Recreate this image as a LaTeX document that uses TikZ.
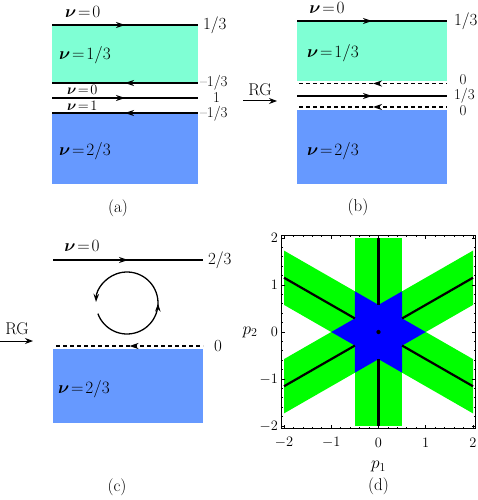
\documentclass[tikz,border=0pt]{standalone}
\usepackage{bm}
\usetikzlibrary{decorations.markings,arrows.meta}

\definecolor{aqua}{RGB}{127,255,212}
\definecolor{sky}{RGB}{102,153,255}
\definecolor{bandgreen}{RGB}{0,255,0}
\definecolor{coreblue}{RGB}{0,0,255}

\newcommand{\nuis}[1]{${\bm{\nu}}\mkern2mu{=}\mkern2mu#1$}

\begin{document}
\begin{tikzpicture}[x=1pt,y=-1pt,
  every node/.style={font=\fontsize{17}{19}\selectfont,inner sep=0pt,outer sep=0pt},
  region/.style={anchor=north west,inner sep=0pt,outer sep=0pt},
  edge/.style={line width=1.2pt},
  fwd/.style={edge,postaction={decorate},
    decoration={markings,mark=at position .5 with {\arrow{Stealth[length=9pt,width=6pt]}}}},
  bwd/.style={edge,postaction={decorate},
    decoration={markings,mark=at position .5 with {\arrowreversed{Stealth[length=9pt,width=6pt]}}}},
  ghost/.style={dash pattern=on 4pt off 3pt},
  nu/.style={anchor=west},
  lbl/.style={anchor=west},
  tight/.style={font=\fontsize{15}{16}\selectfont},
  panel/.style={font=\fontsize{17}{19}\selectfont},
  rg/.style={line width=1pt,-{Stealth[length=8pt,width=6pt]}},
  ticklbl/.style={font=\fontsize{15}{17}\selectfont}
]
  \useasboundingbox (0,0) rectangle (477,500);

  % (a)
  \node[region,fill=aqua,minimum width=146pt,minimum height=58pt] (acyan) at (52,25) {};
  \node[region,fill=sky,minimum width=146pt,minimum height=71pt] (ablue) at (52,113) {};
  \coordinate (amid) at (52,98);
  \draw[fwd] (acyan.north west) -- (acyan.north east);
  \draw[bwd] (acyan.south west) -- (acyan.south east);
  \draw[fwd] (amid) -- (amid -| acyan.east);
  \draw[bwd] (ablue.north west) -- (ablue.north east);
  \node[nu] (anutop) at (65,12) {\nuis{0}};
  \node[nu] (anuone3) at (59,55) {\nuis{1/3}};
  \node[nu,tight] (anugap0) at (67,90) {\nuis{0}};
  \node[nu,tight] (anugap1) at (67,106) {\nuis{1}};
  \node[nu] (anutwo3) at (59,151) {\nuis{2/3}};
  \node[lbl] (ar1) at (203,25) {1/3};
  \node[lbl,tight] (ar2) at (200,83) {--1/3};
  \node[lbl,tight] (ar3) at (213,98) {1};
  \node[lbl,tight] (ar4) at (200,114) {--1/3};
  \node[panel] (acap) at (118,208) {(a)};

  % (b)
  \node[region,fill=aqua,minimum width=150pt,minimum height=60pt] (bcyan) at (297,21) {};
  \node[region,fill=sky,minimum width=150pt,minimum height=74pt] (bblue) at (297,110) {};
  \coordinate (bup) at (299,83.5);
  \coordinate (bmid) at (297,96);
  \coordinate (blow) at (299,107);
  \draw[fwd] (bcyan.north west) -- (bcyan.north east);
  \draw[bwd,ghost] (bup) -- (bup -| bcyan.east);
  \draw[fwd] (bmid) -- (bmid -| bcyan.east);
  \draw[bwd,ghost] (blow) -- (blow -| bcyan.east);
  \node (bnutop) at (327,8) {\nuis{0}};
  \node[nu] (bnuone3) at (307,53) {\nuis{1/3}};
  \node[nu] (bnutwo3) at (307,151) {\nuis{2/3}};
  \node[lbl] (br1) at (454,21) {1/3};
  \node[tight] (br2) at (463,80) {0};
  \node[lbl,tight] (br3) at (454,96) {1/3};
  \node[tight] (br4) at (463,111) {0};
  \node (brg) at (260,90) {RG};
  \coordinate (brgs) at (243,101);
  \coordinate (brge) at (277,101);
  \draw[rg] (brgs) -- (brge);
  \node[panel] (bcap) at (358,207) {(b)};

  % (c)
  \coordinate (ctopw) at (53,260);
  \coordinate (ctope) at (203,260);
  \draw[fwd] (ctopw) -- (ctope);
  \node[region,fill=sky,minimum width=150pt,minimum height=74pt] (cblue) at (53,349) {};
  \coordinate (cdash) at (56,346);
  \draw[bwd,ghost] (cdash) -- (cdash -| cblue.east);
  \node (cnutop) at (82,246) {\nuis{0}};
  \node[nu] (cnutwo3) at (58,389) {\nuis{2/3}};
  \node[lbl] (cr1) at (208,260) {2/3};
  \node (cr2) at (218,346) {0};
  \node (crg) at (17,329) {RG};
  \coordinate (crgs) at (0,341);
  \coordinate (crge) at (33,341);
  \draw[rg] (crgs) -- (crge);
  \coordinate (cloop) at (127,303);
  \begin{scope}[shift={(cloop)},y=1pt]
    \draw[line width=1.3pt,-{Stealth[length=8pt,width=5.5pt]},postaction={decorate},
      decoration={markings,mark=at position .47 with {\arrow{Stealth[length=8pt,width=5.5pt]}}}]
      (200:31) arc[start angle=200,end angle=538,radius=31];
  \end{scope}
  \node[panel] (ccap) at (117,487) {(c)};

  % (d)
  \begin{scope}[shift={(378.5,332)},x=47.25pt,y=47pt]
    \fill[bandgreen] (-0.5,-2) rectangle (0.5,2);
    \fill[bandgreen] (-2,-1.732) -- (2,0.577) -- (2,1.732) -- (-2,-0.577) -- cycle;
    \fill[bandgreen] (-2,1.732) -- (2,-0.577) -- (2,-1.732) -- (-2,0.577) -- cycle;
    \fill[coreblue] (1,0) -- (0.5,0.289) -- (0.5,0.866) -- (0,0.577) -- (-0.5,0.866)
      -- (-0.5,0.289) -- (-1,0) -- (-0.5,-0.289) -- (-0.5,-0.866) -- (0,-0.577)
      -- (0.5,-0.866) -- (0.5,-0.289) -- cycle;
    \foreach \a/\r in {30/2.309,90/2,150/2.309,210/2.309,270/2,330/2.309}
      \draw[line width=2.2pt] (\a:0.577) -- (\a:\r);
    \fill (0,0) circle (0.045);
    \draw[line width=1.2pt] (-2.06,-2.06) rectangle (2.06,2.06);
    \foreach \t in {-2,-1.8,...,2.01} {
      \draw[line width=0.8pt] (\t,-2.06) -- ++(0,0.04) (\t,2.06) -- ++(0,-0.04);
      \draw[line width=0.8pt] (-2.06,\t) -- ++(0.04,0) (2.06,\t) -- ++(-0.04,0);
    }
    \foreach \t in {-2,...,2} {
      \draw[line width=0.9pt] (\t,-2.06) -- ++(0,0.09) (\t,2.06) -- ++(0,-0.09);
      \draw[line width=0.9pt] (-2.06,\t) -- ++(0.09,0) (2.06,\t) -- ++(-0.09,0);
      \node[ticklbl] (dx\t) at (\t,-2.36) {$\t$};
      \node[ticklbl,anchor=east] (dy\t) at (-2.13,\t) {$\t$};
    }
    \node[font=\fontsize{18}{20}\selectfont] (dp1) at (0,-2.87) {$p_1$};
    \node[font=\fontsize{18}{20}\selectfont] (dp2) at (-2.72,0) {$p_2$};
    \node[panel] (dcap) at (0,-3.28) {(d)};
  \end{scope}
\end{tikzpicture}
\end{document}
